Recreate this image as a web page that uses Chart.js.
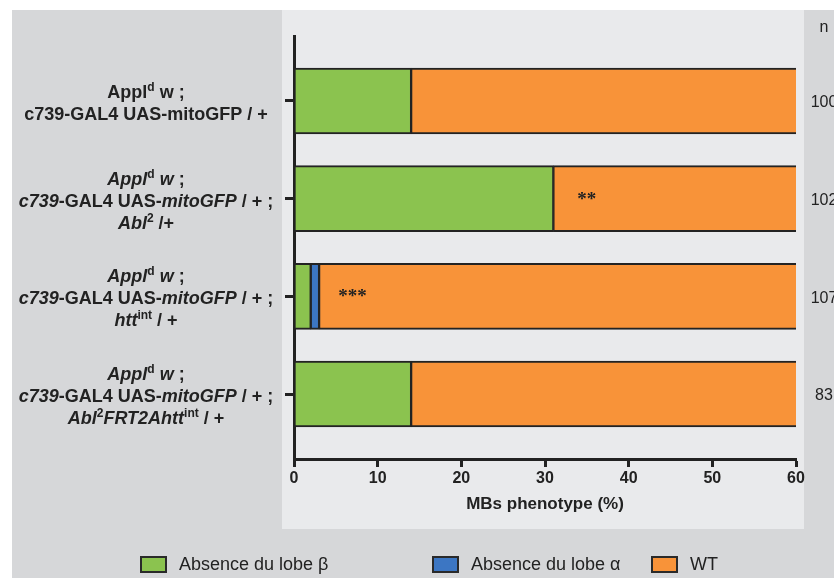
<!DOCTYPE html>
<html>
<head>
<meta charset="utf-8">
<script src="https://cdn.jsdelivr.net/npm/chart.js@4"></script>
<style>
html, body { margin: 0; padding: 0; background: #fff; }
#wrap { width: 834px; height: 578px; }
</style>
</head>
<body>
<div id="wrap"><canvas id="graficoMBs"></canvas></div>
<script>
// genotypes, top to bottom (plain version)
const genotipos = [
    'Appl-d w ; c739-GAL4 UAS-mitoGFP / +',
    'Appl-d w ; c739-GAL4 UAS-mitoGFP / + ; Abl-2 /+',
    'Appl-d w ; c739-GAL4 UAS-mitoGFP / + ; htt-int / +',
    'Appl-d w ; c739-GAL4 UAS-mitoGFP / + ; Abl-2 FRT2Ahtt-int / +'
];
// same labels with styles: b = bold, i = bold italic, s = superscript
const rotulos = [
    [[['Appl', 'b'], ['d', 's'], [' w ;', 'b']],
     [['c739-GAL4 UAS-mitoGFP / +', 'b']]],
    [[['Appl', 'i'], ['d', 's'], [' w', 'i'], [' ;', 'b']],
     [['c739', 'i'], ['-GAL4 UAS-', 'b'], ['mitoGFP', 'i'], [' / + ;', 'b']],
     [['Abl', 'i'], ['2', 's'], [' /+', 'b']]],
    [[['Appl', 'i'], ['d', 's'], [' w', 'i'], [' ;', 'b']],
     [['c739', 'i'], ['-GAL4 UAS-', 'b'], ['mitoGFP', 'i'], [' / + ;', 'b']],
     [['htt', 'i'], ['int', 's'], [' / +', 'b']]],
    [[['Appl', 'i'], ['d', 's'], [' w', 'i'], [' ;', 'b']],
     [['c739', 'i'], ['-GAL4 UAS-', 'b'], ['mitoGFP', 'i'], [' / + ;', 'b']],
     [['Abl', 'i'], ['2', 's'], ['FRT2Ahtt', 'i'], ['int', 's'], [' / +', 'b']]]
];

const ausenciaBeta = [14, 31, 2, 14];
const ausenciaAlfa = [0, 0, 1, 0];
const selvagem = [86, 69, 97, 86];
const nMoscas = [100, 102, 107, 83];
const asteriscos = ['', '**', '***', ''];
const posAsteriscos = [null, 35, 7, null];
const ticksX = [0, 10, 20, 30, 40, 50, 60];

const corTexto = '#222';
const fonte = 'Liberation Sans, Arial, sans-serif';

function pontos(valores) {
    return valores.map((v, i) => ({ x: v, y: i }));
}

const fundo = {
    id: 'fundo',
    beforeDraw(chart) {
        const c = chart.ctx;
        c.save();
        c.fillStyle = '#ffffff';
        c.fillRect(0, 0, chart.width, chart.height);
        c.fillStyle = '#d6d7d9';
        c.fillRect(12, 10, chart.width - 12, chart.height - 10);
        c.fillStyle = '#e9eaec';
        c.fillRect(282, 10, 522, 519);
        c.restore();
    }
};

function estiloFonte(st) {
    if (st === 's') return 'bold 12px ' + fonte;
    if (st === 'i') return 'italic bold 18px ' + fonte;
    return 'bold 18px ' + fonte;
}

const textos = {
    id: 'textos',
    afterDraw(chart) {
        const c = chart.ctx;
        const yS = chart.scales.y;
        const xS = chart.scales.x;
        c.save();
        c.fillStyle = corTexto;
        c.textBaseline = 'alphabetic';
        c.textAlign = 'left';

        // genotype labels
        rotulos.forEach((linhas, i) => {
            const yc = yS.getPixelForValue(i) + 2;
            linhas.forEach((linha, k) => {
                const y = yc + (k - (linhas.length - 1) / 2) * 22 + 6;
                let w = 0;
                linha.forEach(([t, st]) => { c.font = estiloFonte(st); w += c.measureText(t).width; });
                let x = 146 - w / 2;
                linha.forEach(([t, st]) => {
                    c.font = estiloFonte(st);
                    c.fillText(t, x, st === 's' ? y - 7 : y);
                    x += c.measureText(t).width;
                });
            });
        });

        // n column
        c.textAlign = 'center';
        c.textBaseline = 'middle';
        c.font = '16px ' + fonte;
        c.fillText('n', 824, 28);
        nMoscas.forEach((n, i) => c.fillText(String(n), 824, yS.getPixelForValue(i) + 2));

        // significance stars
        c.font = 'bold 19px Liberation Serif, serif';
        asteriscos.forEach((s, i) => {
            if (!s) return;
            c.fillText(s, xS.getPixelForValue(posAsteriscos[i]), yS.getPixelForValue(i) + 1);
        });

        // legend
        const xs = [141, 433, 652];
        c.textAlign = 'left';
        c.font = '18px ' + fonte;
        chart.data.datasets.forEach((ds, k) => {
            c.fillStyle = ds.backgroundColor;
            c.fillRect(xs[k], 557, 25, 15);
            c.strokeStyle = '#2a2a2a';
            c.lineWidth = 2;
            c.strokeRect(xs[k], 557, 25, 15);
            c.fillStyle = corTexto;
            c.fillText(ds.label, xs[k] + 38, 565);
        });
        c.restore();
    }
};

const comum = {
    borderColor: '#232323',
    borderWidth: { top: 2, bottom: 2, left: 1.5, right: 1.5 },
    borderSkipped: false,
    barThickness: 66
};

new Chart(document.getElementById('graficoMBs'), {
    type: 'bar',
    data: {
        datasets: [
            Object.assign({ label: 'Absence du lobe β', data: pontos(ausenciaBeta), backgroundColor: '#8bc34f' }, comum),
            Object.assign({ label: 'Absence du lobe α', data: pontos(ausenciaAlfa), backgroundColor: '#3c76c3' }, comum),
            Object.assign({ label: 'WT', data: pontos(selvagem), backgroundColor: '#f89339' }, comum)
        ]
    },
    options: {
        indexAxis: 'y',
        responsive: true,
        maintainAspectRatio: false,
        animation: false,
        layout: { padding: { left: 274, right: 38, top: 36, bottom: 49 } },
        plugins: {
            legend: { display: false },
            tooltip: { enabled: false }
        },
        scales: {
            x: {
                type: 'linear',
                stacked: true,
                min: ticksX[0],
                max: ticksX[ticksX.length - 1],
                afterFit(s) { s.height = 70; },
                ticks: {
                    stepSize: 10,
                    padding: 2,
                    color: corTexto,
                    font: { family: fonte, size: 16, weight: 'bold' }
                },
                grid: {
                    drawOnChartArea: false,
                    tickLength: 8,
                    tickWidth: 3,
                    tickColor: corTexto
                },
                border: { color: corTexto, width: 3 },
                title: {
                    display: true,
                    text: 'MBs phenotype (%)',
                    color: corTexto,
                    font: { family: fonte, size: 17, weight: 'bold' },
                    padding: { top: 0, bottom: 14 }
                }
            },
            y: {
                type: 'linear',
                stacked: true,
                reverse: true,
                offset: false,
                min: -0.665,
                max: genotipos.length - 1 + 0.665,
                afterFit(s) { s.width = 20; },
                ticks: { display: false, stepSize: 1, includeBounds: false },
                grid: {
                    offset: false,
                    drawOnChartArea: false,
                    tickLength: 9,
                    tickWidth: 3,
                    tickColor: corTexto
                },
                border: { color: corTexto, width: 3 }
            }
        }
    },
    plugins: [fundo, textos]
});
</script>
</body>
</html>
